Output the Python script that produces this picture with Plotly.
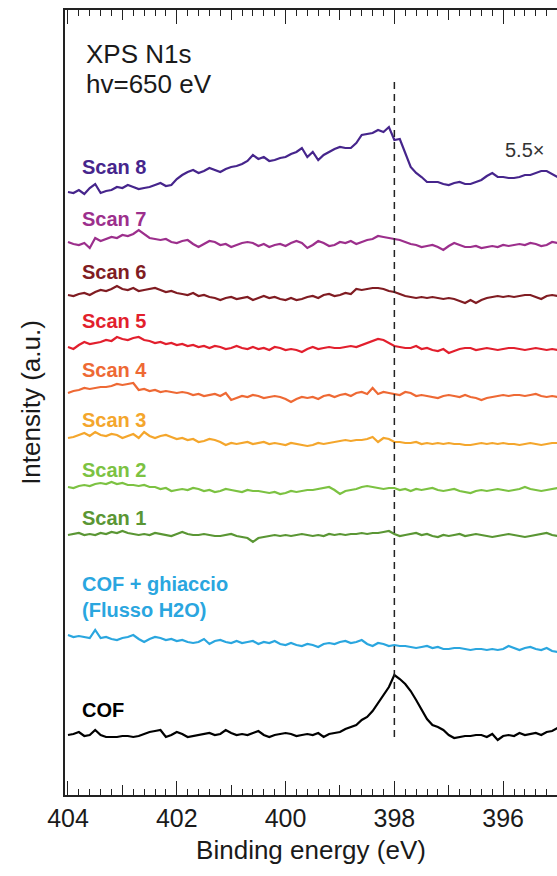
import plotly.graph_objects as go

# Binding energy grid (eV), 0.1 eV step from 404.0 down to 395.0
energy = [round(404.0 - 0.1 * k, 1) for k in range(91)]

# Stacked (offset) intensities, arbitrary units
cof = [60, 61, 63, 59, 60, 65, 60, 58, 58, 58, 59, 59, 58, 59, 61, 63, 64, 65, 58, 60,
       63, 61, 58, 59, 60, 61, 62, 60, 61, 65, 62, 60, 61, 60, 62, 64, 60, 58, 60, 61,
       62, 61, 59, 60, 61, 60, 62, 58, 61, 62, 63, 66, 68, 70, 75, 78, 84, 92, 100, 108,
       120, 116, 111, 104, 95, 85, 76, 70, 68, 65, 60, 57, 58, 59, 59, 60, 60, 58, 61, 55,
       59, 60, 59, 62, 60, 61, 62, 60, 63, 64, 67]
cof_ice = [160, 158, 159, 158, 157, 165, 157, 158, 156, 155, 157, 158, 160, 156, 153, 156, 158, 157, 155, 156,
           154, 155, 153, 152, 153, 156, 151, 154, 155, 153, 152, 154, 152, 153, 154, 151, 153, 152, 154, 151,
           150, 152, 150, 149, 151, 150, 148, 151, 152, 151, 153, 154, 152, 153, 155, 151, 149, 152, 151, 149,
           150, 149, 149, 148, 147, 148, 149, 147, 148, 146, 146, 147, 147, 146, 145, 146, 146, 145, 146, 145,
           146, 149, 147, 145, 147, 148, 146, 145, 147, 144, 143]
scan1 = [260, 261, 262, 260, 261, 260, 262, 261, 263, 262, 264, 262, 261, 260, 261, 260, 262, 261, 260, 259,
         261, 263, 261, 260, 260, 261, 260, 259, 259, 260, 261, 259, 258, 257, 253, 257, 258, 259, 260, 259,
         260, 259, 260, 261, 260, 259, 260, 259, 261, 260, 261, 260, 261, 261, 262, 261, 262, 262, 263, 264,
         261, 259, 260, 261, 262, 260, 261, 259, 258, 260, 259, 260, 261, 259, 260, 261, 260, 259, 258, 259,
         260, 261, 260, 259, 258, 259, 260, 261, 262, 260, 259]
scan2 = [308, 307, 309, 310, 309, 311, 312, 311, 313, 311, 312, 310, 310, 309, 310, 308, 308, 306, 307, 304,
         305, 306, 305, 307, 306, 304, 305, 303, 304, 306, 305, 304, 303, 305, 304, 304, 303, 302, 303, 301,
         302, 304, 303, 304, 305, 305, 306, 307, 308, 305, 301, 304, 305, 306, 308, 309, 308, 307, 306, 307,
         307, 305, 306, 304, 306, 305, 306, 307, 305, 304, 305, 306, 304, 303, 302, 304, 305, 304, 305, 306,
         305, 304, 305, 306, 308, 306, 305, 304, 305, 306, 307]
scan3 = [357, 358, 360, 362, 359, 363, 360, 359, 361, 360, 357, 359, 361, 357, 363, 359, 357, 359, 360, 358,
         356, 357, 355, 356, 353, 354, 356, 355, 353, 350, 352, 351, 352, 353, 351, 352, 353, 351, 352, 351,
         350, 352, 351, 350, 349, 350, 352, 351, 352, 353, 354, 355, 354, 355, 355, 356, 358, 353, 357, 356,
         353, 353, 352, 352, 353, 351, 352, 351, 352, 351, 352, 351, 351, 350, 350, 351, 352, 351, 352, 351,
         352, 351, 351, 350, 351, 352, 351, 350, 351, 352, 352]
scan4 = [402, 404, 405, 407, 406, 407, 408, 408, 409, 411, 410, 411, 412, 405, 406, 404, 405, 403, 404, 403,
         402, 403, 402, 400, 401, 399, 400, 401, 399, 402, 395, 397, 399, 398, 400, 399, 397, 398, 399, 398,
         396, 393, 396, 398, 397, 398, 396, 399, 400, 398, 400, 401, 399, 402, 403, 401, 407, 401, 403, 402,
         401, 400, 403, 402, 399, 400, 399, 398, 397, 399, 400, 399, 398, 400, 398, 397, 395, 397, 398, 399,
         400, 399, 400, 400, 399, 400, 401, 399, 398, 399, 398]
scan5 = [448, 446, 450, 453, 451, 452, 453, 455, 454, 458, 456, 455, 457, 458, 455, 454, 452, 453, 451, 452,
         450, 451, 449, 450, 448, 449, 447, 449, 448, 446, 447, 449, 447, 446, 448, 446, 447, 445, 448, 447,
         445, 446, 445, 443, 446, 448, 446, 447, 448, 447, 447, 448, 449, 448, 450, 452, 454, 456, 455, 452,
         449, 448, 447, 447, 449, 446, 447, 445, 444, 446, 442, 444, 446, 447, 447, 445, 446, 447, 446, 445,
         446, 447, 447, 446, 445, 446, 447, 446, 445, 446, 445]
scan6 = [500, 499, 501, 502, 500, 503, 505, 504, 506, 509, 506, 505, 507, 504, 505, 506, 507, 505, 503, 504,
         502, 501, 500, 502, 499, 500, 498, 497, 495, 497, 498, 496, 497, 498, 495, 497, 499, 497, 498, 496,
         495, 497, 495, 496, 498, 499, 497, 500, 501, 499, 500, 502, 501, 506, 505, 506, 507, 507, 506, 504,
         503, 501, 499, 498, 497, 498, 497, 498, 497, 496, 497, 496, 494, 492, 495, 492, 495, 497, 498, 499,
         498, 499, 498, 499, 500, 500, 498, 496, 499, 500, 499]
scan7 = [553, 551, 550, 552, 547, 557, 554, 556, 558, 557, 560, 559, 561, 565, 561, 557, 556, 555, 556, 553,
         552, 554, 555, 551, 548, 551, 554, 553, 550, 551, 548, 550, 552, 553, 552, 549, 551, 548, 550, 551,
         549, 552, 554, 552, 547, 550, 554, 552, 549, 550, 553, 552, 554, 551, 553, 555, 556, 559, 558, 557,
         556, 555, 553, 551, 550, 548, 549, 550, 548, 545, 549, 552, 550, 548, 548, 549, 547, 548, 549, 548,
         550, 549, 550, 551, 550, 552, 551, 549, 550, 553, 552]
scan8 = [603, 602, 605, 601, 607, 611, 602, 604, 605, 608, 607, 610, 608, 606, 607, 608, 610, 612, 609, 610,
         616, 620, 623, 625, 622, 624, 627, 625, 623, 626, 628, 629, 631, 634, 640, 636, 638, 634, 635, 637,
         638, 641, 643, 647, 638, 643, 635, 640, 643, 646, 648, 647, 647, 652, 660, 661, 662, 665, 663, 668,
         655, 656, 642, 628, 622, 618, 613, 613, 613, 611, 610, 612, 613, 611, 611, 613, 615, 619, 622, 618,
         618, 617, 617, 618, 620, 620, 622, 624, 624, 621, 618]

series_names = ["COF", "COF + ghiaccio (Flusso H2O)", "Scan 1", "Scan 2", "Scan 3",
                "Scan 4", "Scan 5", "Scan 6", "Scan 7", "Scan 8"]
series_values = [cof, cof_ice, scan1, scan2, scan3, scan4, scan5, scan6, scan7, scan8]
series_colors = ["#000000", "#2AA6DF", "#5A9634", "#7CC242", "#F4A62C",
                 "#EE6934", "#E21F2D", "#801C22", "#9C2F8C", "#46258C"]

# label text and anchor (energy, intensity)
label_texts = ["COF", "COF + ghiaccio<br>(Flusso H2O)", "Scan 1", "Scan 2", "Scan 3",
               "Scan 4", "Scan 5", "Scan 6", "Scan 7", "Scan 8"]
label_y = [85, 198, 277, 325, 375, 425, 474, 523, 576, 628]

peak_position = 398.0
dash_span = [58, 713]
tick_major = [396, 398, 400, 402, 404]
tick_medium = [395, 397, 399, 401, 403]

FONT = "Arial, Liberation Sans, sans-serif"

fig = go.Figure()
for name, vals, col in zip(series_names, series_values, series_colors):
    fig.add_trace(go.Scatter(x=energy, y=vals, mode="lines", name=name,
                             line=dict(color=col, width=2.2), showlegend=False,
                             xaxis="x", yaxis="y"))

# invisible trace to activate secondary x axis (medium ticks at odd eV)
fig.add_trace(go.Scatter(x=[energy[0]], y=[None], xaxis="x2", yaxis="y",
                         showlegend=False, hoverinfo="skip"))

fig.add_shape(type="line", x0=peak_position, x1=peak_position,
              y0=dash_span[0], y1=dash_span[1], xref="x", yref="y",
              line=dict(color="#222222", width=1.5, dash="7px,5px"))

for txt, yv, col in zip(label_texts, label_y, series_colors):
    fig.add_annotation(x=403.78, y=yv, xref="x", yref="y", text="<b>" + txt + "</b>",
                       showarrow=False, xanchor="left", yanchor="middle", align="left",
                       font=dict(family=FONT, size=20, color=col))

fig.add_annotation(x=403.7, y=741, xref="x", yref="y", text="XPS N1s",
                   showarrow=False, xanchor="left", yanchor="middle", align="left",
                   font=dict(family=FONT, size=26, color="#1a1a1a"))
fig.add_annotation(x=403.7, y=711, xref="x", yref="y", text="hv=650 eV",
                   showarrow=False, xanchor="left", yanchor="middle", align="left",
                   font=dict(family=FONT, size=26, color="#1a1a1a"))
fig.add_annotation(x=395.6, y=645, xref="x", yref="y", text="5.5×",
                   showarrow=False, xanchor="center", yanchor="middle",
                   font=dict(family=FONT, size=20, color="#333333"))

xr = [404.055, 395.01]
fig.update_layout(
    width=557, height=876, autosize=False,
    margin=dict(l=65, r=0, t=10, b=81, pad=0),
    paper_bgcolor="white", plot_bgcolor="white",
    font=dict(family=FONT, color="#1a1a1a"),
    showlegend=False,
    xaxis=dict(range=xr, tickvals=tick_major, ticks="inside", ticklen=14,
               tickwidth=1, tickcolor="#222", mirror="ticks", showline=True,
               linecolor="#222", linewidth=1.5, showgrid=False, zeroline=False,
               tickfont=dict(size=25, family=FONT, color="#1a1a1a"),
               minor=dict(dtick=0.2, tick0=404, ticks="inside", ticklen=6,
                          tickcolor="#222", tickwidth=1, showgrid=False),
               title=dict(text="Binding energy (eV)", standoff=10,
                          font=dict(size=26, family=FONT, color="#1a1a1a"))),
    xaxis2=dict(range=xr, overlaying="x", side="bottom", tickvals=tick_medium,
                ticks="inside", ticklen=10, tickwidth=1, tickcolor="#222",
                mirror="ticks", showticklabels=False, showgrid=False,
                zeroline=False, showline=False),
    yaxis=dict(range=[0, 785], showticklabels=False, ticks="", showgrid=False,
               zeroline=False, showline=True, linecolor="#222", linewidth=1.5,
               mirror=False,
               title=dict(text="Intensity (a.u.)", standoff=15,
                          font=dict(size=26, family=FONT, color="#1a1a1a"))),
)

fig.write_html("out.html")
